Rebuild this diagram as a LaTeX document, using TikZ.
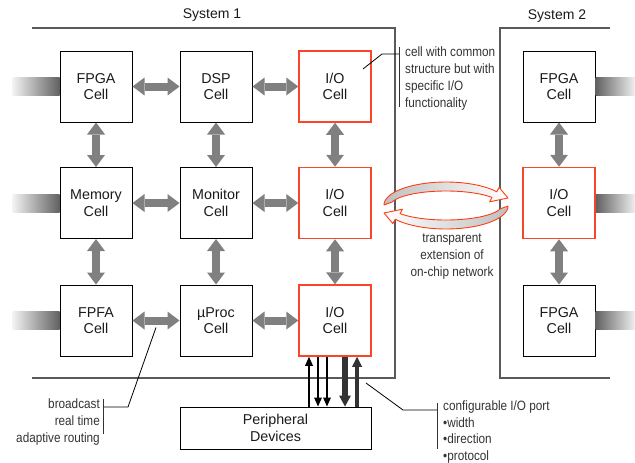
\documentclass[tikz,border=0pt]{standalone}
\usepackage{fontspec}
\setmainfont{Liberation Sans}
\newfontfamily\narrowfont{Liberation Sans}[FakeStretch=0.87]
\usetikzlibrary{arrows.meta,calc}
\definecolor{arrgray}{HTML}{808080}
\definecolor{iored}{RGB}{250,70,40}
\definecolor{sysline}{HTML}{5A5A5A}
\definecolor{ringred}{RGB}{255,60,20}
\definecolor{darkarr}{HTML}{333333}
\definecolor{txt}{HTML}{1A1A1A}
\definecolor{anntxt}{HTML}{333333}
\begin{document}
\begin{tikzpicture}[x=1pt,y=-1pt,
  cell/.style={draw=black, line width=1pt, minimum width=72pt, minimum height=71pt, inner sep=0pt,
    align=center, font=\fontsize{14.3}{16.5}\selectfont, text=txt},
  io/.style={cell, draw=iored, line width=1.5pt},
  syslbl/.style={font=\fontsize{14}{16}\selectfont, text=txt, anchor=base, inner sep=0pt},
  ann/.style={font=\narrowfont\fontsize{13.5}{17}\selectfont, text=anntxt, inner sep=0pt},
  sysl/.style={draw=sysline, line width=1.3pt},
  dbl/.style={draw=arrgray, line width=8pt,
    {Triangle[width=18pt,length=12pt,line width=0pt]}-{Triangle[width=18pt,length=12pt,line width=0pt]}},
  thinarr/.style={draw=black, line width=2pt, -{Triangle[width=8pt,length=9pt,line width=0pt]}},
  thickarr/.style={draw=darkarr, line width=6pt, -{Triangle[width=12pt,length=11pt,line width=0pt]}},
  midarr/.style={draw=darkarr, line width=4.5pt, -{Triangle[width=10pt,length=10pt,line width=0pt]}},
  leader/.style={draw=black, line width=0.8pt},
  bracket/.style={draw=darkarr, line width=0.9pt},
  ring/.style={draw=ringred, line width=0.9pt, line join=round}
]
\useasboundingbox (0,0) rectangle (635,463);

% system outlines
\draw[sysl] (32,28) -- (395,28) -- (395,378) -- (32,378);
\draw[sysl] (610,28) -- (500,28) -- (500,378) -- (610,378);
\node[syslbl] (sys1) at (212,19) {System 1};
\node[syslbl] (sys2) at (557,19.5) {System 2};

% cells
\node[cell] (fpga1) at (96,86.5) {FPGA\\Cell};
\node[cell] (dsp) at (216,86.5) {DSP\\Cell};
\node[io] (io1) at (335,86.5) {I/O\\Cell};
\node[cell] (mem) at (96,203) {Memory\\Cell};
\node[cell] (mon) at (216,203) {Monitor\\Cell};
\node[io] (io2) at (335,203) {I/O\\Cell};
\node[cell] (fpfa) at (96,320.5) {FPFA\\Cell};
\node[cell] (up) at (216,320.5) {µProc\\Cell};
\node[io] (io3) at (335,320.5) {I/O\\Cell};
\node[cell] (s2a) at (559,86.5) {FPGA\\Cell};
\node[io] (s2b) at (559,203) {I/O\\Cell};
\node[cell] (s2c) at (559,320.5) {FPGA\\Cell};
\node[cell, minimum width=191pt, minimum height=42pt] (per) at (275.5,428) {Peripheral\\Devices};

% gradient stubs
\foreach \n in {fpga1,mem,fpfa}{
  \shade[left color=black!5, right color=black!62] ($(\n.west)+(-47,-9)$) rectangle ($(\n.west)+(0,9)$);
}
\foreach \n in {s2a,s2b,s2c}{
  \shade[left color=black!62, right color=black!5] ($(\n.east)+(0,-9)$) rectangle ($(\n.east)+(40,9)$);
}

% network arrows
\draw[dbl] (fpga1) -- (dsp);
\draw[dbl] (dsp) -- (io1);
\draw[dbl] (mem) -- (mon);
\draw[dbl] (mon) -- (io2);
\draw[dbl] (fpfa) -- (up);
\draw[dbl] (up) -- (io3);
\draw[dbl] (fpga1) -- (mem);
\draw[dbl] (mem) -- (fpfa);
\draw[dbl] (dsp) -- (mon);
\draw[dbl] (mon) -- (up);
\draw[dbl] (io1) -- (io2);
\draw[dbl] (io2) -- (io3);
\draw[dbl] (s2a) -- (s2b);
\draw[dbl] (s2b) -- (s2c);

% I/O port arrows
\draw[thinarr] ([xshift=-26pt]io3.south |- per.north) -- ([xshift=-26pt]io3.south);
\draw[thinarr] ([xshift=-17pt]io3.south) -- ([xshift=-17pt]io3.south |- per.north);
\draw[thinarr] ([xshift=-8pt]io3.south) -- ([xshift=-8pt]io3.south |- per.north);
\draw[thickarr] ([xshift=10pt]io3.south) -- ([xshift=10pt]io3.south |- per.north);
\draw[midarr] ([xshift=22pt]io3.south |- per.north) -- ([xshift=22pt]io3.south);

% ring arrows (transparent extension)
\path[ring, left color=gray!50, right color=white]
  plot[domain=180:325,samples=40] ({446+62*cos(\x)},{205+23*sin(\x)})
  -- (499.1,187.4) -- (508,198) -- (489.6,201.8)
  -- plot[domain=325:195,samples=40] ({446+56*cos(\x)},{206+15*sin(\x)}) -- cycle;
\path[ring, left color=white, right color=gray!50]
  plot[domain=180:325,samples=40] ({446-62*cos(\x)},{206-23*sin(\x)})
  -- (392.9,223.6) -- (384,213) -- (402.4,209.2)
  -- plot[domain=325:195,samples=40] ({446-56*cos(\x)},{205-15*sin(\x)}) -- cycle;

% annotations
\coordinate (c1) at (363,69);
\coordinate (c1a) at (382,54);
\coordinate (c1b) at (399,54);
\coordinate (b1t) at (399,47);
\coordinate (b1b) at (399,107);
\draw[leader] (c1) -- (c1a) -- (c1b);
\draw[bracket] (b1t) -- (b1b);
\node[ann, anchor=north west, align=left] (t1) at (405,46.5) {cell with common\\structure but with\\specific I/O\\functionality};

\coordinate (c2) at ($(fpfa.east)!.5!(up.west)+(0,7)$);
\coordinate (c2a) at (128,407);
\coordinate (c2b) at (103,407);
\coordinate (b2t) at (103,399);
\coordinate (b2b) at (103,434);
\draw[leader] (c2) -- (c2a) -- (c2b);
\draw[bracket] (b2t) -- (b2b);
\node[ann, anchor=north east, align=right] (t2) at (100,398.5) {broadcast\\real time\\adaptive routing};

\node[ann, anchor=north, align=center] (t3) at (452,233.5) {transparent\\extension of\\on-chip network};

\coordinate (c3) at (366,383);
\coordinate (c3a) at (403,410);
\coordinate (c3b) at (437,410);
\coordinate (b3t) at (437,403);
\coordinate (b3b) at (437,449);
\draw[leader] (c3) -- (c3a) -- (c3b);
\draw[bracket] (b3t) -- (b3b);
\node[ann, anchor=north west, align=left, font=\narrowfont\fontsize{13.5}{16.4}\selectfont] (t4) at (443,401) {configurable I/O port\\\textbullet width\\\textbullet direction\\\textbullet protocol};
\end{tikzpicture}
\end{document}
